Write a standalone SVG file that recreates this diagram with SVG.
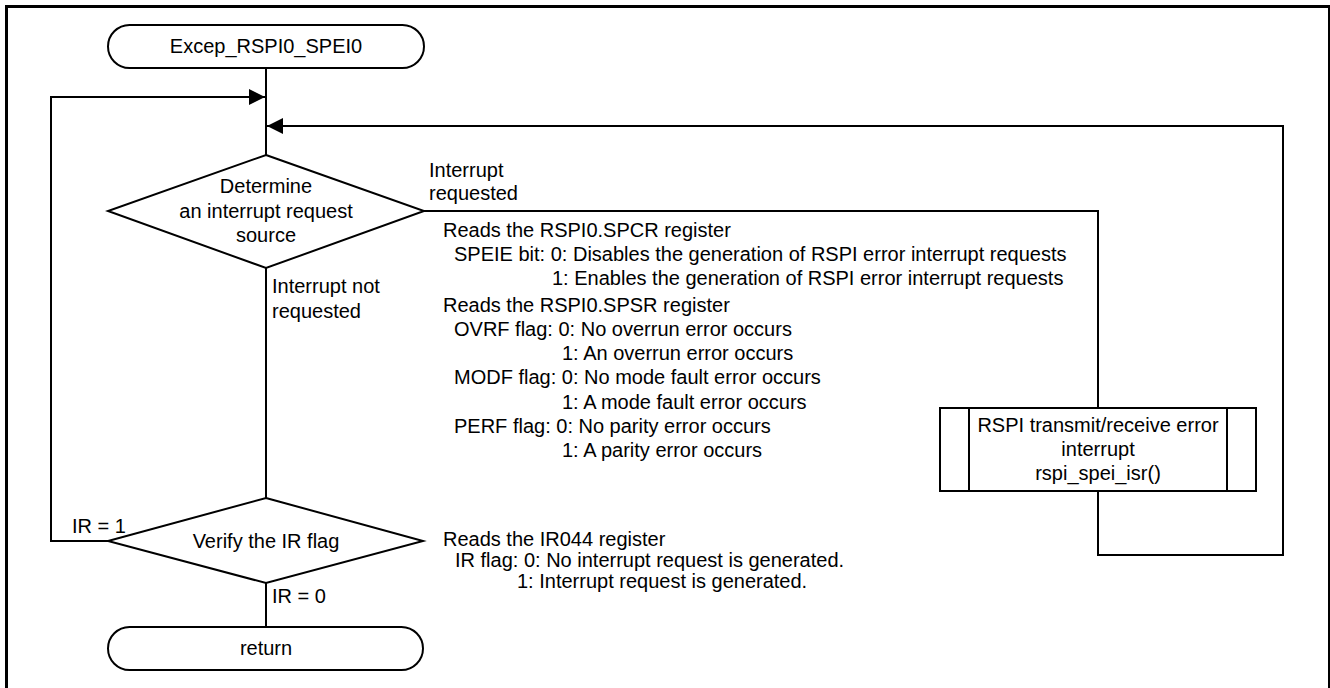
<svg xmlns="http://www.w3.org/2000/svg" width="1330" height="688" viewBox="0 0 1330 688">
<style>
.s{fill:#fff;stroke:#000;stroke-width:2}
.c{fill:none;stroke:#000;stroke-width:2}
text{font-family:"Liberation Sans",Arial,sans-serif;font-size:20px;fill:#000}
.m{text-anchor:middle}
</style>
<defs>
<marker id="ah" viewBox="0 0 16 16" refX="16" refY="8" markerWidth="16" markerHeight="16" markerUnits="userSpaceOnUse" orient="auto">
<path d="M0,0 L16,8 L0,16 Z" fill="#000"/>
</marker>
</defs>
<rect x="0" y="0" width="1330" height="688" fill="#fff"/>
<rect x="6.5" y="6.5" width="1323" height="700" fill="none" stroke="#000" stroke-width="3"/>
<g id="connectors">
<line class="c" x1="266" y1="68" x2="266" y2="155"/>
<line class="c" x1="266" y1="268" x2="266" y2="498"/>
<line class="c" x1="266" y1="583" x2="266" y2="627"/>
<polyline class="c" points="108,541 51,541 51,97 265,97" marker-end="url(#ah)"/>
<polyline class="c" points="424,211 1098,211 1098,408"/>
<polyline class="c" points="1098,491 1098,555 1283,555 1283,126 267,126" marker-end="url(#ah)"/>
<text x="429" y="177">Interrupt</text>
<text x="429" y="200">requested</text>
<text x="272" y="293">Interrupt not</text>
<text x="272" y="318">requested</text>
<text x="72" y="533">IR = 1</text>
<text x="272" y="603">IR = 0</text>
</g>
<g id="start">
<rect class="s" x="108" y="25" width="316" height="43" rx="21.5" ry="21.5"/>
<text class="m" x="266" y="53">Excep_RSPI0_SPEI0</text>
</g>
<g id="decision1">
<polygon class="s" points="266,155 424,211 266,268 108,211"/>
<text class="m" x="266" y="193">Determine</text>
<text class="m" x="266" y="218">an interrupt request</text>
<text class="m" x="266" y="242">source</text>
</g>
<g id="note1">
<text x="443" y="237">Reads the RSPI0.SPCR register</text>
<text x="454" y="261">SPEIE bit: 0: Disables the generation of RSPI error interrupt requests</text>
<text x="552" y="285">1: Enables the generation of RSPI error interrupt requests</text>
<text x="443" y="312">Reads the RSPI0.SPSR register</text>
<text x="454" y="336">OVRF flag: 0: No overrun error occurs</text>
<text x="562" y="360">1: An overrun error occurs</text>
<text x="454" y="384">MODF flag: 0: No mode fault error occurs</text>
<text x="562" y="409">1: A mode fault error occurs</text>
<text x="454" y="433">PERF flag: 0: No parity error occurs</text>
<text x="562" y="457">1: A parity error occurs</text>
</g>
<g id="subroutine">
<rect class="s" x="940" y="408" width="316" height="83"/>
<line class="c" x1="969" y1="408" x2="969" y2="491"/>
<line class="c" x1="1227" y1="408" x2="1227" y2="491"/>
<text class="m" x="1098" y="432">RSPI transmit/receive error</text>
<text class="m" x="1098" y="456">interrupt</text>
<text class="m" x="1098" y="480">rspi_spei_isr()</text>
</g>
<g id="decision2">
<polygon class="s" points="266,498 423,541 266,583 108,541"/>
<text class="m" x="266" y="548">Verify the IR flag</text>
</g>
<g id="note2">
<text x="443" y="546">Reads the IR044 register</text>
<text x="455" y="567">IR flag: 0: No interrupt request is generated.</text>
<text x="517" y="588">1: Interrupt request is generated.</text>
</g>
<g id="end">
<rect class="s" x="108" y="627" width="315" height="43" rx="21.5" ry="21.5"/>
<text class="m" x="266" y="655">return</text>
</g>
</svg>
